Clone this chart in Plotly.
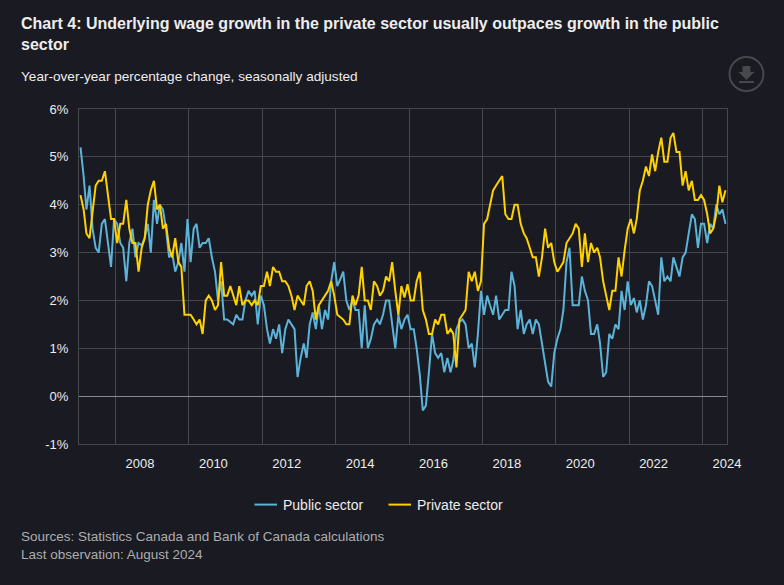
import pandas as pd
import plotly.graph_objects as go

months = pd.date_range("2007-01-01", "2024-08-01", freq="MS")

public_sector = [
    5.2,4.6,3.9,4.4,3.5,3.1,3.0,3.6,3.7,3.2,2.7,3.7,3.6,3.2,3.1,2.4,3.2,3.5,2.9,3.2,3.15,3.3,3.6,3.0,4.1,3.6,4.0,3.9,3.5,2.9,3.0,2.6,2.8,3.2,2.6,3.7,
    2.8,3.5,3.6,3.1,3.2,3.2,3.3,2.9,2.6,2.0,2.4,1.6,1.6,1.55,1.5,1.7,1.6,1.6,2.0,2.2,2.1,2.2,1.5,2.1,1.9,1.4,1.1,1.4,1.2,1.5,0.9,1.4,1.6,1.5,1.4,
    0.4,0.8,1.1,0.8,1.5,1.75,1.4,1.9,1.4,1.8,1.6,2.4,2.8,2.3,2.45,2.6,2.0,1.8,2.0,1.8,1.8,1.0,1.9,1.0,1.2,1.5,1.6,1.5,1.7,2.0,2.0,1.5,1.0,1.7,
    1.4,1.6,1.7,1.4,1.4,1.0,0.45,-0.3,-0.2,0.5,1.3,0.9,0.8,0.9,0.5,0.8,0.5,0.75,1.4,1.55,1.6,1.5,1.0,1.1,0.6,1.3,2.2,1.7,2.1,1.9,1.7,2.1,1.6,1.7,1.8,
    1.8,2.6,2.3,1.4,1.8,1.3,1.5,1.6,1.3,1.6,1.5,1.1,0.7,0.3,0.2,0.9,1.2,1.4,1.8,2.8,3.1,1.9,1.9,1.9,2.5,2.2,2.0,1.3,1.3,1.5,1.1,0.4,0.5,1.3,1.2,1.5,
    1.4,2.2,1.8,2.4,1.9,2.05,1.75,2.0,1.6,1.9,2.4,2.3,2.0,1.7,2.9,2.4,2.5,2.4,2.9,2.7,2.5,2.9,3.0,3.4,3.8,3.7,3.1,3.6,3.6,3.2,3.6,3.5,4.0,3.8,3.9,3.6,
]
private_sector = [
    4.2,3.9,3.4,3.3,3.85,4.4,4.5,4.5,4.7,4.2,3.7,3.7,3.2,3.6,3.6,4.1,3.5,3.2,3.2,2.6,3.1,3.3,4.0,4.3,4.5,3.9,4.0,3.5,3.6,3.1,2.9,3.3,2.8,2.7,1.7,1.7,
    1.7,1.6,1.5,1.6,1.3,2.0,2.1,2.0,1.8,1.9,2.8,2.1,2.1,2.3,2.1,1.9,2.3,1.9,2.0,2.0,1.9,2.0,1.9,2.3,2.3,2.6,2.3,2.7,2.6,2.6,2.4,2.4,2.3,2.1,1.8,
    2.1,2.0,1.9,2.3,2.4,2.2,1.6,1.9,2.0,2.1,2.2,2.4,2.1,1.7,1.65,1.6,1.5,1.5,2.1,1.9,2.1,2.7,2.0,2.0,1.8,2.4,2.3,2.1,2.2,2.5,2.4,2.8,2.2,1.7,
    2.3,2.06,2.34,2.0,2.0,2.4,2.6,1.8,1.6,1.3,1.3,1.6,1.5,1.7,1.7,1.3,1.4,1.3,0.6,1.6,1.7,1.8,2.6,2.4,2.6,2.2,2.4,3.6,3.7,4.0,4.3,4.4,4.5,4.6,3.8,
    3.7,3.7,4.0,4.0,3.6,3.4,3.3,3.1,2.9,2.9,2.5,2.9,3.5,3.1,3.2,2.8,2.6,2.7,2.8,3.2,3.3,3.4,3.6,3.5,2.7,3.4,2.8,3.2,3.0,3.1,2.9,2.4,2.1,1.8,2.2,2.2,
    2.9,2.5,3.05,3.5,3.7,3.4,3.7,4.3,4.5,4.8,4.6,5.05,4.7,5.1,5.4,4.9,4.9,5.4,5.5,5.1,5.1,4.4,4.7,4.3,4.5,4.1,4.1,4.2,4.1,3.8,3.4,3.5,3.8,4.4,4.05,4.3,
]

year_labels = ["2008","2010","2012","2014","2016","2018","2020","2022","2024"]
label_dates = [f"{y}-08-16" for y in year_labels]
grid_dates = [f"{int(y)-1}-12-16" for y in year_labels]
x_range = ["2006-12-17", "2024-08-16"]
y_ticks = [-1, 0, 1, 2, 3, 4, 5, 6]
y_labels = ["-1%", "0%", "1%", "2%", "3%", "4%", "5%", "6%"]

BG = "#1a1a22"
GRID = "#47474c"
TEXT = "#ededed"
FONT = "Liberation Sans"

L, R, T, B = 78.5, 727.5, 109.0, 444.0
def px(x): return (x - L) / (R - L)
def py(y): return (B - y) / (B - T)

fig = go.Figure()
fig.add_trace(go.Scatter(x=months, y=public_sector, name="Public sector", mode="lines",
                         line=dict(color="#5cb3d9", width=2)))
fig.add_trace(go.Scatter(x=months, y=private_sector, name="Private sector", mode="lines",
                         line=dict(color="#ffd100", width=2)))
fig.add_trace(go.Scatter(x=[months[0]], y=[None], xaxis="x2", showlegend=False, hoverinfo="skip"))

icon = "#47474c"
ix, iy = 747.0, 74.0
arrow = [(-4,-8),(4,-8),(4,-2),(8,-2),(0,6),(-8,-2),(-4,-2)]
path = "M " + " L ".join(f"{px(ix+a)},{py(iy+b)}" for a, b in arrow) + " Z"
shapes = [
    dict(type="circle", xref="paper", yref="paper", x0=px(ix-17), x1=px(ix+17), y0=py(iy+17), y1=py(iy-17),
         line=dict(color=icon, width=2)),
    dict(type="path", xref="paper", yref="paper", path=path, fillcolor=icon, line=dict(width=0)),
    dict(type="line", xref="paper", yref="paper", x0=px(ix-7.5), x1=px(ix+7.5), y0=py(iy+8), y1=py(iy+8),
         line=dict(color=icon, width=2)),
]

fig.update_layout(
    width=784, height=585, autosize=False,
    paper_bgcolor=BG, plot_bgcolor=BG,
    margin=dict(l=L, r=784-R, t=T, b=585-B, pad=0),
    font=dict(family=FONT, size=13, color=TEXT),
    title=dict(text="<b>Chart 4: Underlying wage growth in the private sector usually outpaces growth in the public<br>sector</b>",
               x=21/784, xanchor="left", xref="container", y=1-29/585, yanchor="top", yref="container",
               font=dict(size=16, color=TEXT, family=FONT)),
    xaxis=dict(type="date", range=x_range, tickmode="array", tickvals=grid_dates, showticklabels=False,
               showgrid=True, gridcolor=GRID, gridwidth=1, ticks="", zeroline=False,
               showline=True, linecolor=GRID, mirror=True),
    xaxis2=dict(type="date", range=x_range, overlaying="x", side="bottom", anchor="y", tickmode="array",
                tickvals=label_dates, ticktext=year_labels, showgrid=False, ticks="outside", ticklen=7,
                tickcolor="rgba(0,0,0,0)", showline=False, zeroline=False,
                tickfont=dict(size=13, color=TEXT), tickangle=0),
    yaxis=dict(range=[-1, 6], tickmode="array", tickvals=y_ticks, ticktext=y_labels, showgrid=True,
               gridcolor=GRID, gridwidth=1, zeroline=True, zerolinecolor="#8a8a8e", zerolinewidth=1,
               ticks="outside", ticklen=7, tickcolor="rgba(0,0,0,0)", showline=True, linecolor=GRID, mirror=True,
               tickfont=dict(size=13, color=TEXT)),
    legend=dict(orientation="h", x=243/784, xanchor="left", xref="container", y=1-505/585, yanchor="middle",
                yref="container", bgcolor="rgba(0,0,0,0)", font=dict(size=14, color=TEXT), traceorder="normal",
                entrywidth=89, entrywidthmode="pixels"),
    annotations=[
        dict(text="Year-over-year percentage change, seasonally adjusted", xref="paper", yref="paper",
             x=px(21), y=py(76), xanchor="left", yanchor="middle", showarrow=False, xshift=-3,
             font=dict(size=13.6, color=TEXT)),
        dict(text="Sources: Statistics Canada and Bank of Canada calculations<br>Last observation: August 2024",
             xref="paper", yref="paper", x=px(21), y=py(545), xanchor="left", yanchor="middle", align="left",
             showarrow=False, xshift=-3, font=dict(size=13.5, color="#adadad")),
    ],
    shapes=shapes,
)
fig.write_html("out.html", config=dict(displayModeBar=False),
               post_script="document.body.style.margin='0';document.body.style.background='#1a1a22';"
                           "document.querySelectorAll('.legendlines path').forEach(function(p){p.setAttribute('d','M11.5,0h22.5');});")
